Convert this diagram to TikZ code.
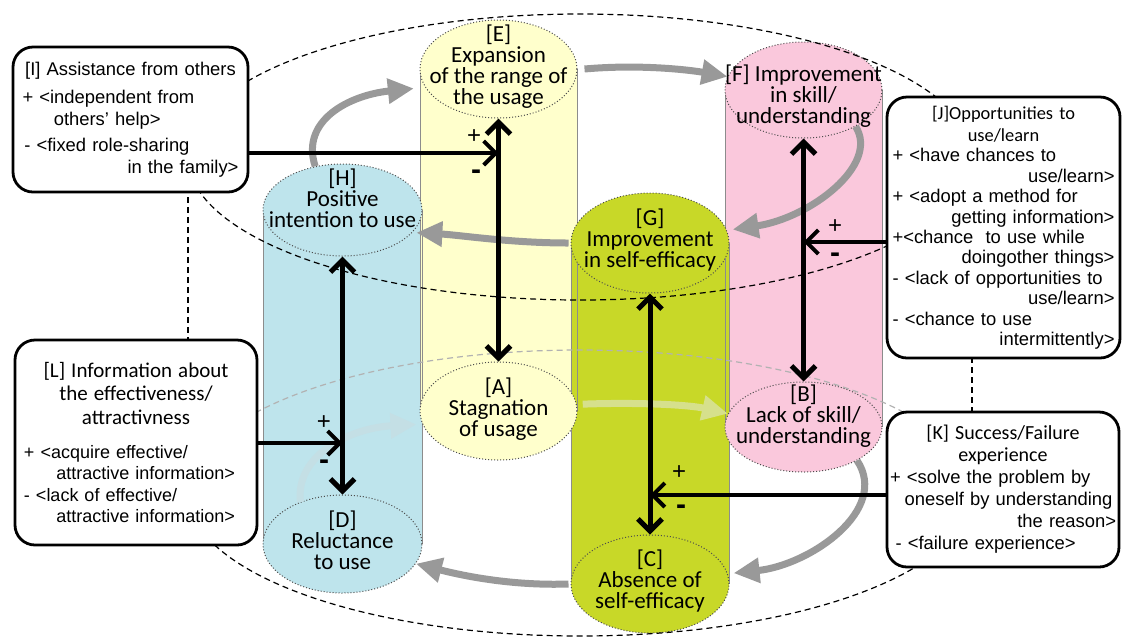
\documentclass[tikz,border=0pt]{standalone}
\usepackage{fontspec}
\setmainfont{Liberation Sans}
\newfontfamily\carl{Carlito}
\usetikzlibrary{shapes.geometric, arrows.meta}

\definecolor{bluefill}{HTML}{BEE4EC}
\definecolor{yelfill}{HTML}{FFFFCC}
\definecolor{greenfill}{HTML}{C8D828}
\definecolor{pinkfill}{HTML}{FAC8DC}
\definecolor{flowgray}{HTML}{999999}
\definecolor{faintgreen}{HTML}{D6E08C}
\definecolor{faintblue}{HTML}{C4DFE5}

\begin{document}
\begin{tikzpicture}[x=0.5pt, y=-0.5pt, >={Straight Barb[length=6pt,width=12pt]},
    capnode/.style={ellipse, draw=black!70, densely dotted, line width=0.5pt, inner sep=0pt},
    captext/.style={font=\carl\fontsize{11.5}{10.5}\selectfont, align=center, inner sep=0pt},
    side/.style={draw=black!45, line width=0.4pt},
    infobox/.style={draw, line width=1.4pt, rounded corners=10pt, fill=white, align=left,
        inner sep=1.5pt, font=\fontsize{9.2}{11}\selectfont},
    flow/.style={line width=3.5pt, draw=flowgray, -{Triangle[length=13pt,width=12pt]}},
    link/.style={line width=2.5pt, <->},
    push/.style={line width=2pt, ->},
    pm/.style={font=\fontsize{12}{12}\selectfont, inner sep=0pt},
    bigdash/.style={dash pattern=on 3pt off 2pt, line width=0.6pt}]

    \useasboundingbox (0,0) rectangle (1122,639);

    % Draw the four cylinder bodies
    \fill[bluefill] (263,210) rectangle (422,544);
    \fill[yelfill] (420,69) rectangle (577,411);
    \fill[pinkfill] (725,90) rectangle (882,427);
    \fill[greenfill] (571,243) rectangle (729,584);
    \draw[side] (263,210) -- (263,544) (422,210) -- (422,544);
    \draw[side] (420,69) -- (420,411) (577,69) -- (577,411);
    \draw[side] (725,90) -- (725,427) (882,90) -- (882,427);
    \draw[side] (571,243) -- (571,584) (729,243) -- (729,584);

    % Draw the upper caps
    \node[capnode, fill=yelfill, minimum width=78.5pt, minimum height=49pt,
        label={[captext, yshift=1.2pt]center:{[E]\\Expansion\\of the range of\\the usage}}] (E) at (498.5,69) {};
    \node[capnode, fill=pinkfill, minimum width=78.5pt, minimum height=48pt,
        label={[captext, yshift=-3pt]center:{[F] Improvement\\in skill/\\understanding}}] (F) at (803.5,90) {};
    \node[capnode, fill=greenfill, minimum width=79pt, minimum height=50pt,
        label={[captext, yshift=1.5pt]center:{[G]\\Improvement\\in self-efficacy}}] (G) at (650,243) {};
    \node[capnode, fill=bluefill, minimum width=79.5pt, minimum height=46pt,
        label={[captext, yshift=6pt]center:{[H]\\Positive\\intention to use}}] (H) at (342.5,210) {};

    % Draw the lower caps
    \node[capnode, fill=yelfill, minimum width=78.5pt, minimum height=49pt,
        label={[captext, yshift=1pt]center:{[A]\\Stagnation\\of usage}}] (A) at (498.5,411) {};
    \node[capnode, fill=pinkfill, minimum width=78.5pt, minimum height=45pt,
        label={[captext, yshift=5.5pt]center:{[B]\\Lack of skill/\\understanding}}] (B) at (803.5,427) {};
    \node[capnode, fill=greenfill, minimum width=79pt, minimum height=49pt,
        label={[captext, yshift=1.5pt]center:{[C]\\Absence of\\self-efficacy}}] (C) at (650,584) {};
    \node[capnode, fill=bluefill, minimum width=79.5pt, minimum height=49pt,
        label={[captext, yshift=2pt]center:{[D]\\Reluctance\\to use}}] (D) at (342.5,544) {};

    % Draw the two dashed rings and their sides
    \draw[bigdash] (580,157) ellipse [x radius=196pt, y radius=71.5pt];
    \draw[bigdash, black!30] (188,493) arc[start angle=180, end angle=0, x radius=196pt, y radius=71.5pt];
    \draw[bigdash] (188,493) arc[start angle=180, end angle=360, x radius=196pt, y radius=71.5pt];
    \draw[bigdash] (188,157) -- (188,493);
    \draw[bigdash] (972,157) -- (972,493);

    % Gray arrows around the upper ring
    \draw[flow] ([xshift=3.5pt]E.east) .. controls (640,64) and (690,70) .. (F.170);
    \draw[flow] (F.-35) .. controls (880,165) and (810,218) .. ([xshift=3pt]G.10);
    \draw[flow] ([xshift=-1pt]G.west) .. controls (510,243) and (460,235) .. ([xshift=2pt]H.-18);
    \draw[flow] (H.122) .. controls (300,120) and (350,95) .. ([xshift=-6pt]E.195);

    % Gray arrows around the lower ring
    \draw[flow, draw=faintgreen] ([xshift=3pt]A.5) .. controls (640,402) and (690,405) .. (B.170);
    \draw[flow, draw=faintblue] (D.135) .. controls (295,455) and (350,428) .. ([xshift=-3pt]A.190);
    \draw[flow] (B.-32) .. controls (890,510) and (810,565) .. ([xshift=3pt]C.8);
    \draw[flow] ([xshift=-1pt]C.west) .. controls (510,586) and (460,575) .. (D.-15);

    % Arrows connecting upper and lower caps
    \draw[link] (H.south) -- (D.north);
    \draw[link] (E.south) -- (A.north);
    \draw[link] (G.south) -- (C.north);
    \draw[link] (F.south) -- (B.north);

    % Draw the factor boxes
    \node[infobox, minimum width=117.5pt, minimum height=72.5pt, text width=108pt] (I) at (130.5,119.5)
        {\makebox[\linewidth]{[I] Assistance from others}\\[3pt]
         + <independent from\\
         \hspace*{1.7em}others’ help>\\[2pt]
         \hspace*{0.1em}- <fixed role-sharing\\
         \makebox[\linewidth][r]{in the family>}};
    \node[infobox, minimum width=116.5pt, minimum height=130.5pt, text width=111pt,
        font=\fontsize{9.2}{10.2}\selectfont] (J) at (1003.5,227.5)
        {\makebox[\linewidth]{\carl [J]Opportunities to}\\[1pt]
         \makebox[\linewidth]{\carl use/learn}\\
         + <have chances to\\
         \makebox[\linewidth][r]{use/learn>}\\
         + <adopt a method for\\
         \makebox[\linewidth][r]{getting information>}\\
         +<chance\ \ to use while\\
         \makebox[\linewidth][r]{doingother things>}\\
         - <lack of opportunities to\\
         \makebox[\linewidth][r]{use/learn>}\\
         - <chance to use\\
         \makebox[\linewidth][r]{intermittently>}};
    \node[infobox, minimum width=116pt, minimum height=77.5pt, text width=113pt] (K) at (1003,489.5)
        {\makebox[\linewidth]{\carl\fontsize{10}{11}\selectfont [K] Success/Failure}\\
         \makebox[\linewidth]{\carl\fontsize{10}{11}\selectfont experience}\\
         + <solve the problem by\\
         \hspace*{0.8em}oneself by understanding\\
         \makebox[\linewidth][r]{the reason>}\\
         \hspace*{0.3em}- <failure experience>};
    \node[infobox, minimum width=121pt, minimum height=102.5pt, text width=112pt,
        font=\fontsize{9}{10.8}\selectfont] (L) at (136,442.5)
        {\makebox[\linewidth]{\carl\fontsize{10.5}{12}\selectfont [L] Information about}\\[1pt]
         \makebox[\linewidth]{\carl\fontsize{10.5}{12}\selectfont the effectiveness/}\\[1pt]
         \makebox[\linewidth]{\carl\fontsize{10.5}{12}\selectfont attractivness}\\[6pt]
         + <acquire effective/\\
         \hspace*{1.8em}attractive information>\\
         - <lack of effective/\\
         \hspace*{1.8em}attractive information>};

    % Arrows from the boxes onto the links
    \coordinate (ie) at (498.5,153);
    \coordinate (je) at (803.5,242);
    \coordinate (le) at (342.5,443);
    \coordinate (ke) at (650,495);
    \draw[push] (I.east |- ie) -- (ie);
    \draw[push] (J.west |- je) -- (je);
    \draw[push] (L.east |- le) -- (le);
    \draw[push] (K.west |- ke) -- (ke);

    % Signs of the influences
    \node[pm] (pI) at (474,137) {+};
    \node[pm] (mI) at (476,175) {\textbf{\fontsize{15}{15}\selectfont -}};
    \node[pm] (pJ) at (835,227) {+};
    \node[pm] (mJ) at (835,258) {\textbf{\fontsize{15}{15}\selectfont -}};
    \node[pm] (pL) at (324,423) {+};
    \node[pm] (mL) at (324,465) {\textbf{\fontsize{15}{15}\selectfont -}};
    \node[pm] (pK) at (679,473) {+};
    \node[pm] (mK) at (681,510) {\textbf{\fontsize{15}{15}\selectfont -}};

\end{tikzpicture}
\end{document}
